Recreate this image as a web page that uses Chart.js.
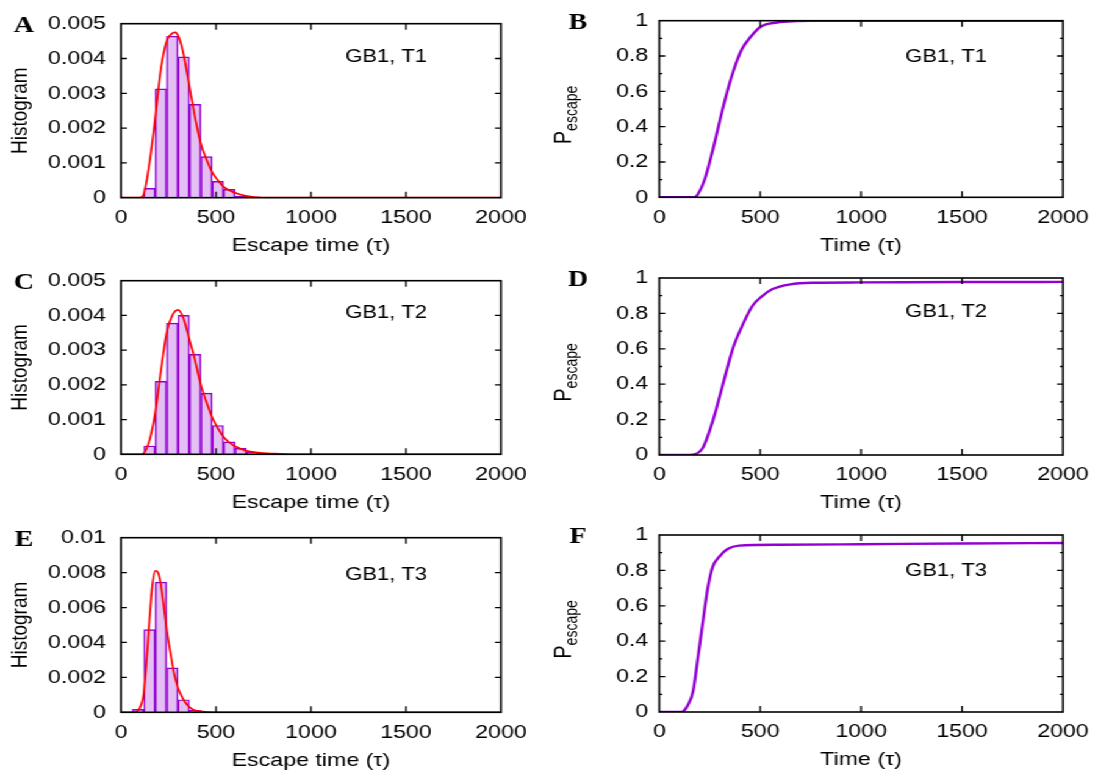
<!DOCTYPE html>
<html><head><meta charset="utf-8">
<script src="https://cdn.jsdelivr.net/npm/chart.js@4.4.1/dist/chart.umd.min.js"></script>
<style>
html,body{margin:0;padding:0;background:#fff;overflow:hidden;width:1099px;height:770px}
#fig{position:absolute;left:0;top:0;width:901px;height:770px;transform:scaleX(1.22);transform-origin:0 0}
canvas{position:absolute}
</style></head><body><div id="fig"></div>
<script>
// ---------- data ----------
const xTickValues = [0, 500, 1000, 1500, 2000];
const histTicksAC = [0, 0.001, 0.002, 0.003, 0.004, 0.005];
const histTicksE = [0, 0.002, 0.004, 0.006, 0.008, 0.01];
const pTicks = [0, 0.2, 0.4, 0.6, 0.8, 1];
const pMinorTicks = [0.1, 0.3, 0.5, 0.7, 0.9];

const binCentersA = [150, 210, 270, 330, 390, 450, 510, 570, 630, 690];
const histA = [0.00027, 0.00313, 0.00464, 0.00405, 0.00268, 0.00118, 0.00047, 0.00024, 0.00004, 0.00002];
const fitTimesA = [0, 100, 120, 150, 180, 210, 240, 265, 285, 305, 330, 360, 390, 420, 450, 480, 510, 540, 600, 650, 700, 800, 1000, 1500, 2000];
const fitA = [0, 0, 0.0001, 0.001, 0.0023, 0.0037, 0.0045, 0.0047, 0.00475, 0.0046, 0.0041, 0.0032, 0.0023, 0.00155, 0.0011, 0.00073, 0.0005, 0.00031, 0.00014, 0.00006, 0.00002, 0, 0, 0, 0];

const binCentersC = [150, 210, 270, 330, 390, 450, 510, 570, 630, 690, 750, 810];
const histC = [0.00024, 0.0021, 0.00378, 0.0040, 0.00288, 0.00176, 0.00083, 0.00036, 0.00017, 0.00006, 0.00003, 0.00001];
const fitTimesC = [0, 100, 117, 150, 180, 210, 240, 270, 300, 330, 360, 390, 420, 450, 480, 510, 540, 570, 600, 660, 720, 800, 900, 1000, 2000];
const fitC = [0, 0, 0.00002, 0.0004, 0.0012, 0.0024, 0.0035, 0.0040, 0.00416, 0.0039, 0.0033, 0.0027, 0.0020, 0.0015, 0.00106, 0.00075, 0.0005, 0.00034, 0.00023, 0.0001, 0.00005, 0.00002, 0, 0, 0];

const binCentersE = [90, 150, 210, 270, 330, 390, 450];
const histE = [0.00017, 0.00474, 0.00745, 0.00254, 0.00072, 0.00011, 0.00002];
const fitTimesE = [0, 70, 90, 105, 120, 135, 150, 165, 180, 195, 210, 225, 240, 260, 280, 300, 320, 350, 380, 420, 480, 600, 1000, 2000];
const fitE = [0, 0, 0.0001, 0.0004, 0.0011, 0.003, 0.0053, 0.0073, 0.0081, 0.008, 0.0073, 0.0061, 0.0048, 0.0034, 0.0022, 0.0014, 0.0009, 0.0004, 0.00015, 0.00005, 0, 0, 0, 0];

const cdfTimesB = [0, 175, 191, 224, 265, 319, 358, 407, 453, 502, 583, 681, 750, 1000, 1500, 2000];
const cdfB = [0, 0, 0.017, 0.098, 0.268, 0.523, 0.683, 0.834, 0.909, 0.966, 0.99, 0.998, 1, 1, 1, 1];
const cdfTimesD = [0, 150, 175, 216, 265, 322, 363, 395, 461, 510, 559, 649, 763, 1000, 1500, 2000];
const cdfD = [0, 0, 0.003, 0.041, 0.192, 0.428, 0.597, 0.69, 0.842, 0.898, 0.936, 0.964, 0.973, 0.975, 0.977, 0.978];
const cdfTimesF = [0, 110, 118, 142, 167, 191, 216, 240, 265, 297, 338, 395, 600, 1000, 1500, 2000];
const cdfF = [0, 0, 0.003, 0.04, 0.115, 0.303, 0.51, 0.699, 0.821, 0.877, 0.921, 0.94, 0.945, 0.948, 0.952, 0.955];

// ---------- layout ----------
const S = 1.22;
const FONT = '"Liberation Sans", Arial, sans-serif';
const SERIF = '"Liberation Serif", "Times New Roman", serif';
const VIOLET = '#9400d3';
Chart.defaults.font.family = FONT;
Chart.defaults.color = '#000';

const COLS = [{left: 0, width: 443, plotL: 121, plotR: 501, letterX: 24, labelX: 386, yTitleX: 20, tickGap: 12.3},
              {left: 443, width: 458, plotL: 659.3, plotR: 1067.5, letterX: 578, labelX: 946, yTitleX: 571, tickGap: 9}];
const ROWS = [{top: 0, height: 257}, {top: 257, height: 257}, {top: 514, height: 256}];

const zip = (xs, ys) => xs.map((x, i) => ({x: x, y: ys[i]}));

const panels = [
  {letter: 'A', col: 0, row: 0, pt: 20.7, pb: 197.7, kind: 'hist', centers: binCentersA, values: histA, fitX: fitTimesA, fitY: fitA, yTicks: histTicksAC, label: 'GB1, T1', labelY: 57},
  {letter: 'B', col: 1, row: 0, pt: 20.7, pb: 197.3, kind: 'cdf', cx: cdfTimesB, cy: cdfB, yTicks: pTicks, label: 'GB1, T1', labelY: 57},
  {letter: 'C', col: 0, row: 1, pt: 278, pb: 454.3, kind: 'hist', centers: binCentersC, values: histC, fitX: fitTimesC, fitY: fitC, yTicks: histTicksAC, label: 'GB1, T2', labelY: 313},
  {letter: 'D', col: 1, row: 1, pt: 278, pb: 455, kind: 'cdf', cx: cdfTimesD, cy: cdfD, yTicks: pTicks, label: 'GB1, T2', labelY: 312},
  {letter: 'E', col: 0, row: 2, pt: 535, pb: 712.3, kind: 'hist', centers: binCentersE, values: histE, fitX: fitTimesE, fitY: fitE, yTicks: histTicksE, label: 'GB1, T3', labelY: 575},
  {letter: 'F', col: 1, row: 2, pt: 535, pb: 712, kind: 'cdf', cx: cdfTimesF, cy: cdfF, yTicks: pTicks, label: 'GB1, T3', labelY: 571}
];

const fig = document.getElementById('fig');

function makeDecor(p, C, R) {
  return {
    id: 'decor' + p.letter,
    afterDatasetsDraw(chart) {
      const ctx = chart.ctx;
      const {left, right, top, bottom} = chart.chartArea;
      const xs = chart.scales.x, ys = chart.scales.y;
      ctx.save();
      ctx.strokeStyle = '#000';
      ctx.lineWidth = 1.3;
      ctx.beginPath();
      const hMaj = 6 / S, hMin = 3 / S, vMaj = 6;
      xs.ticks.forEach(t => {
        const px = xs.getPixelForValue(t.value);
        if (px > left + 1 && px < right - 1) {
          ctx.moveTo(px, bottom); ctx.lineTo(px, bottom - vMaj);
          ctx.moveTo(px, top); ctx.lineTo(px, top + vMaj);
        }
      });
      ys.ticks.forEach(t => {
        const py = ys.getPixelForValue(t.value);
        if (py > top + 1 && py < bottom - 1) {
          ctx.moveTo(left, py); ctx.lineTo(left + hMaj, py);
          ctx.moveTo(right, py); ctx.lineTo(right - hMaj, py);
        }
      });
      if (p.kind === 'cdf') {
        pMinorTicks.forEach(v => {
          const py = ys.getPixelForValue(v);
          ctx.moveTo(left, py); ctx.lineTo(left + hMin, py);
          ctx.moveTo(right, py); ctx.lineTo(right - hMin, py);
        });
      }
      ctx.stroke();
      ctx.lineWidth = 1.6;
      ctx.strokeRect(left, top, right - left, bottom - top);
      ctx.restore();
    },
    afterDraw(chart) {
      const ctx = chart.ctx;
      const {top, bottom} = chart.chartArea;
      const mid = (top + bottom) / 2;
      ctx.save();
      ctx.fillStyle = '#000';
      // panel letter
      ctx.font = 'bold 23px ' + SERIF;
      ctx.textAlign = 'center';
      ctx.textBaseline = 'middle';
      ctx.fillText(p.letter, C.letterX / S - C.left, top + 2);
      // annotation
      ctx.font = '18px ' + FONT;
      ctx.fillText(p.label, C.labelX / S - C.left, p.labelY - R.top);
      // y title
      if (p.kind === 'hist') {
        ctx.translate(C.yTitleX / S - C.left, mid);
        ctx.rotate(-Math.PI / 2);
        ctx.font = '19px ' + FONT;
        ctx.textAlign = 'center';
        ctx.textBaseline = 'middle';
        ctx.fillText('Histogram', 0, 0);
      } else {
        ctx.translate(C.yTitleX / S - C.left, mid + 6);
        ctx.rotate(-Math.PI / 2);
        ctx.textAlign = 'left';
        ctx.textBaseline = 'alphabetic';
        ctx.font = '20px ' + FONT;
        const wP = ctx.measureText('P').width;
        ctx.font = '14px ' + FONT;
        const wS = ctx.measureText('escape').width;
        const x0 = -(wP + wS) / 2;
        ctx.font = '20px ' + FONT;
        ctx.fillText('P', x0, 0);
        ctx.font = '14px ' + FONT;
        ctx.fillText('escape', x0 + wP, 5);
      }
      ctx.restore();
    }
  };
}

panels.forEach(p => {
  const C = COLS[p.col], R = ROWS[p.row];
  const cv = document.createElement('canvas');
  cv.width = C.width; cv.height = R.height;
  cv.style.left = C.left + 'px'; cv.style.top = R.top + 'px';
  cv.style.width = C.width + 'px'; cv.style.height = R.height + 'px';
  fig.appendChild(cv);

  const plotL = C.plotL / S - C.left;
  const plotR = C.plotR / S - C.left;
  const ptRel = p.pt - R.top, pbRel = p.pb - R.top;
  const xH = R.height - pbRel;
  const titlePadB = R.height - 9.5 - (pbRel + 48);

  let datasets;
  if (p.kind === 'hist') {
    datasets = [
      {type: 'line', data: zip(p.fitX, p.fitY), borderColor: '#ff0000', borderWidth: 1.7, pointRadius: 0,
       cubicInterpolationMode: 'monotone', fill: false, order: 0},
      {type: 'bar', data: zip(p.centers, p.values), backgroundColor: 'rgba(148,0,211,0.25)', borderColor: VIOLET,
       borderWidth: 0.8, categoryPercentage: 1.0, barPercentage: 1.0, order: 1}
    ];
  } else {
    datasets = [
      {type: 'line', data: zip(p.cx, p.cy), borderColor: VIOLET, borderWidth: 2.4, pointRadius: 0,
       cubicInterpolationMode: 'monotone', fill: false}
    ];
  }
  const yMin = p.yTicks[0], yMax = p.yTicks[p.yTicks.length - 1];

  new Chart(cv, {
    type: p.kind === 'hist' ? 'bar' : 'line',
    data: {datasets: datasets},
    options: {
      responsive: false, animation: false, devicePixelRatio: 1,
      layout: {autoPadding: false, padding: {left: 0, top: ptRel, right: C.width - plotR, bottom: 0}},
      plugins: {legend: {display: false}, tooltip: {enabled: false}, title: {display: false}},
      scales: {
        x: {
          type: 'linear', min: 0, max: 2000, offset: false,
          grid: {display: false, offset: false, drawTicks: false}, border: {display: false},
          afterBuildTicks: s => { s.ticks = xTickValues.map(v => ({value: v})); },
          afterFit: s => { s.height = xH; },
          ticks: {padding: 8.6, maxRotation: 0, autoSkip: false, font: {size: 19, lineHeight: 1.2}, color: '#000',
                  callback: v => String(v)},
          title: {display: true, text: p.kind === 'hist' ? 'Escape time (τ)' : 'Time (τ)', color: '#000',
                  font: {size: 19, lineHeight: 1}, padding: {top: 0, bottom: titlePadB}}
        },
        y: {
          type: 'linear', min: yMin, max: yMax,
          grid: {display: false, drawTicks: false}, border: {display: false},
          afterBuildTicks: s => { s.ticks = p.yTicks.map(v => ({value: v})); },
          afterFit: s => { s.width = plotL; },
          ticks: {padding: C.tickGap, autoSkip: false, font: {size: 19, lineHeight: 1.2}, color: '#000',
                  callback: v => String(v)}
        }
      }
    },
    plugins: [makeDecor(p, C, R)]
  });
});
</script>
</body></html>
